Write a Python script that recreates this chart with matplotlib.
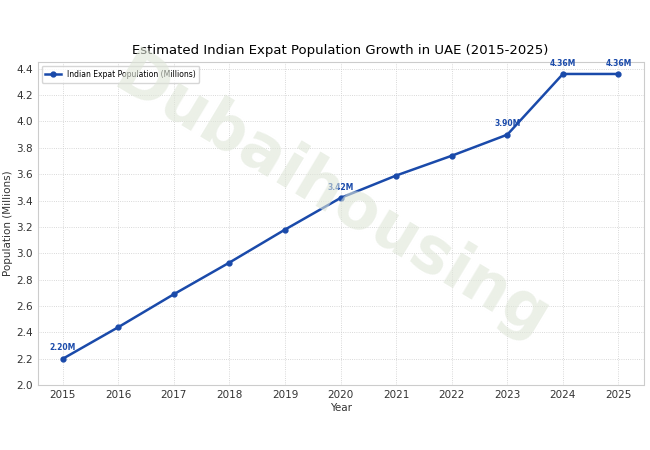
import matplotlib
matplotlib.use("Agg")
import matplotlib.pyplot as plt

years = [2015, 2016, 2017, 2018, 2019, 2020, 2021, 2022, 2023, 2024, 2025]
population = [2.20, 2.44, 2.69, 2.93, 3.18, 3.42, 3.59, 3.74, 3.90, 4.36, 4.36]
labeled_years = [2015, 2020, 2023, 2024, 2025]

fig = plt.figure(figsize=(6.5, 4.5), dpi=100)
ax = fig.add_axes([0.058, 0.144, 0.932, 0.718])
color = "#1a4aaa"
ax.plot(years, population, color=color, lw=1.8, marker="o", ms=3.5,
        label="Indian Expat Population (Millions)")
for y, p in zip(years, population):
    if y in labeled_years:
        ax.annotate(f"{p:.2f}M", (y, p), xytext=(0, 6), textcoords="offset points",
                    ha="center", fontsize=5.5, fontweight="bold", color=color)
ax.set_xlim(2014.55, 2025.45)
ax.set_ylim(2.0, 4.45)
ax.set_xticks(years)
ax.set_yticks([2.0 + 0.2 * i for i in range(13)])
ax.tick_params(labelsize=7.5, length=0, labelcolor="#333333")
ax.grid(True, ls=":", lw=0.6, color="#cccccc")
for s in ax.spines.values():
    s.set_color("#cccccc")
ax.set_xlabel("Year", fontsize=7.5, labelpad=2, color="#333333")
ax.set_ylabel("Population (Millions)", fontsize=7.5, labelpad=2, color="#333333")
ax.set_title("Estimated Indian Expat Population Growth in UAE (2015-2025)", fontsize=9.5, pad=6)
ax.legend(loc="upper left", fontsize=5.5, frameon=True, borderpad=0.5, handlelength=2)
fig.text(0.51, 0.56, "Dubaihousing", fontsize=46, fontweight="bold", color="#dfe6d8",
         alpha=0.6, rotation=-31, ha="center", va="center", zorder=0)
fig.savefig("out.png", dpi=100)
